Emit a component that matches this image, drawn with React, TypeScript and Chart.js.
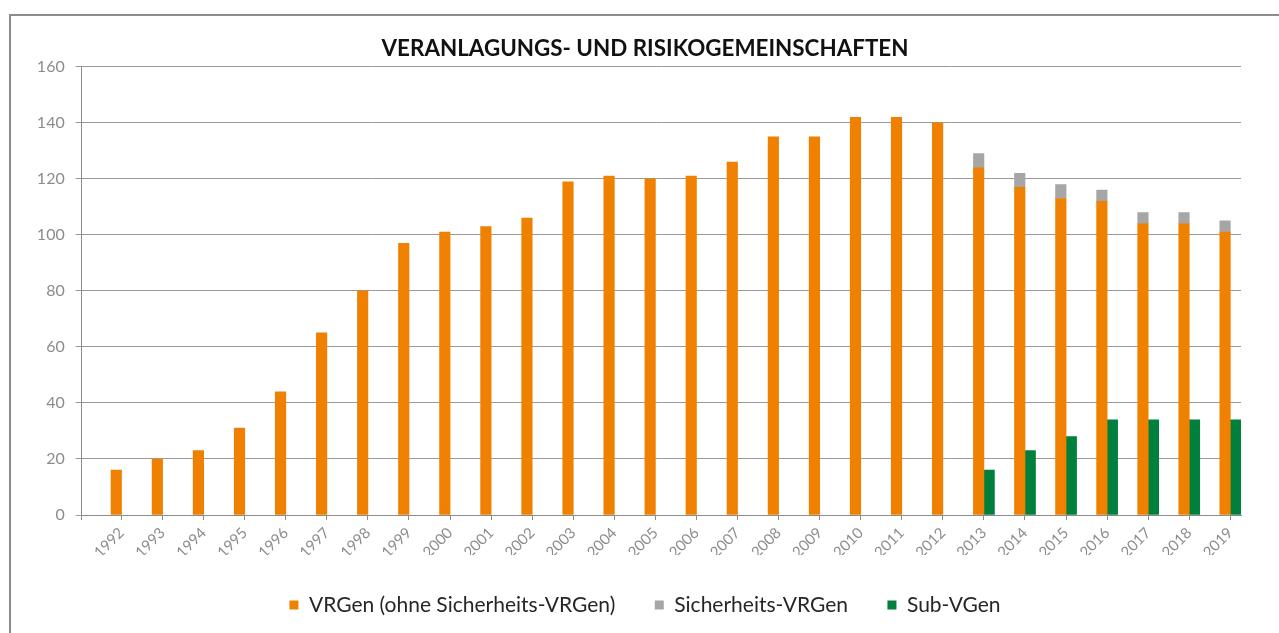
import React, { useEffect, useRef } from "react";
import { Chart, registerables } from "chart.js";

Chart.register(...registerables);

// ---- data ----
const YEARS = [
  1992, 1993, 1994, 1995, 1996, 1997, 1998, 1999, 2000, 2001, 2002, 2003, 2004, 2005,
  2006, 2007, 2008, 2009, 2010, 2011, 2012, 2013, 2014, 2015, 2016, 2017, 2018, 2019,
];
const VRGEN_OHNE = [
  16, 20, 23, 31, 44, 65, 80, 97, 101, 103, 106, 119, 121, 120,
  121, 126, 135, 135, 142, 142, 140, 124, 117, 113, 112, 104, 104, 101,
];
const SICHERHEITS_YEARS = [2013, 2014, 2015, 2016, 2017, 2018, 2019];
const SICHERHEITS_VRGEN = [5, 5, 5, 4, 4, 4, 4];
const SUB_YEARS = [2013, 2014, 2015, 2016, 2017, 2018, 2019];
const SUB_VGEN = [16, 23, 28, 34, 34, 34, 34];
const Y_TICKS = [0, 20, 40, 60, 80, 100, 120, 140, 160];
const LABELS = ["VRGen (ohne Sicherheits-VRGen)", "Sicherheits-VRGen", "Sub-VGen"];
const TITLE = "VERANLAGUNGS- UND RISIKOGEMEINSCHAFTEN";

const X_MIN = 1991.03;
const X_MAX = 2019.26;

const COLORS = { orange: "#F08000", grey: "#A6A6A6", green: "#00803C" };
const AXIS_GREY = "#8c8c8c";
const FONT = "Lato, 'Open Sans', sans-serif";

export default function App() {
  const ref = useRef<HTMLCanvasElement | null>(null);

  useEffect(() => {
    const canvas = ref.current;
    if (!canvas) return;
    const toPts = (xs: number[], ys: number[]) => xs.map((x, i) => ({ x, y: ys[i] }));

    const chart = new Chart(canvas, {
      type: "bar",
      data: {
        datasets: [
          {
            label: LABELS[0],
            data: toPts(YEARS, VRGEN_OHNE),
            backgroundColor: COLORS.orange,
            stack: "a",
            barThickness: 10.5,
          },
          {
            label: LABELS[1],
            data: toPts(SICHERHEITS_YEARS, SICHERHEITS_VRGEN),
            backgroundColor: COLORS.grey,
            stack: "a",
            barThickness: 10.5,
          },
          {
            label: LABELS[2],
            data: toPts(SUB_YEARS, SUB_VGEN),
            backgroundColor: COLORS.green,
            stack: "b",
            barThickness: 10.5,
          },
        ],
      },
      options: {
        animation: false,
        responsive: false,
        maintainAspectRatio: false,
        layout: { padding: { left: 0, right: 0, top: 0, bottom: 7.5 } },
        plugins: {
          title: {
            display: true,
            text: TITLE,
            color: "#111111",
            font: { family: FONT, size: 22.4, weight: "bold" },
            padding: { top: 19, bottom: 5 },
          },
          legend: {
            position: "bottom",
            labels: {
              boxWidth: 9,
              boxHeight: 9,
              padding: 39.5,
              color: "#262626",
              font: { family: FONT, size: 21 },
            },
          },
          tooltip: { enabled: false },
        },
        scales: {
          x: {
            type: "linear",
            min: X_MIN,
            max: X_MAX,
            offset: false,
            afterBuildTicks: (axis: any) => {
              axis.ticks = [X_MIN, ...YEARS].map((v) => ({ value: v }));
            },
            afterFit: (axis: any) => {
              axis.height = 40;
              axis.paddingRight = 38;
            },
            ticks: {
              autoSkip: false,
              maxRotation: 45,
              minRotation: 45,
              padding: 4,
              color: AXIS_GREY,
              font: { family: FONT, size: 15 },
              callback: (v: any) => (YEARS.includes(v) ? String(v) : ""),
            },
            grid: {
              offset: false,
              drawOnChartArea: false,
              drawTicks: true,
              tickLength: 5,
              color: AXIS_GREY,
            },
            border: { display: true, color: AXIS_GREY },
          },
          y: {
            stacked: true,
            min: 0,
            max: 160,
            afterBuildTicks: (axis: any) => {
              axis.ticks = Y_TICKS.map((v) => ({ value: v }));
            },
            afterFit: (axis: any) => {
              axis.width = 70.7;
            },
            ticks: {
              padding: 11,
              color: AXIS_GREY,
              font: { family: FONT, size: 16 },
              callback: (v: any) => String(v),
            },
            grid: { color: "#9a9a9a", tickLength: 6, lineWidth: 1 },
            border: { display: true, color: AXIS_GREY },
          },
        },
      } as any,
    });
    return () => chart.destroy();
  }, []);

  return (
    <div>
      <div
        style={{
          position: "absolute",
          left: 9,
          top: 14,
          width: 1270,
          height: 619,
          boxSizing: "border-box",
          borderTop: "2px solid #8c8c8c",
          borderLeft: "2px solid #8c8c8c",
          background: "#ffffff",
        }}
      />
      <canvas
        ref={ref}
        width={1268}
        height={617}
        style={{ position: "absolute", left: 11, top: 16, width: 1268, height: 617 }}
      />
    </div>
  );
}
